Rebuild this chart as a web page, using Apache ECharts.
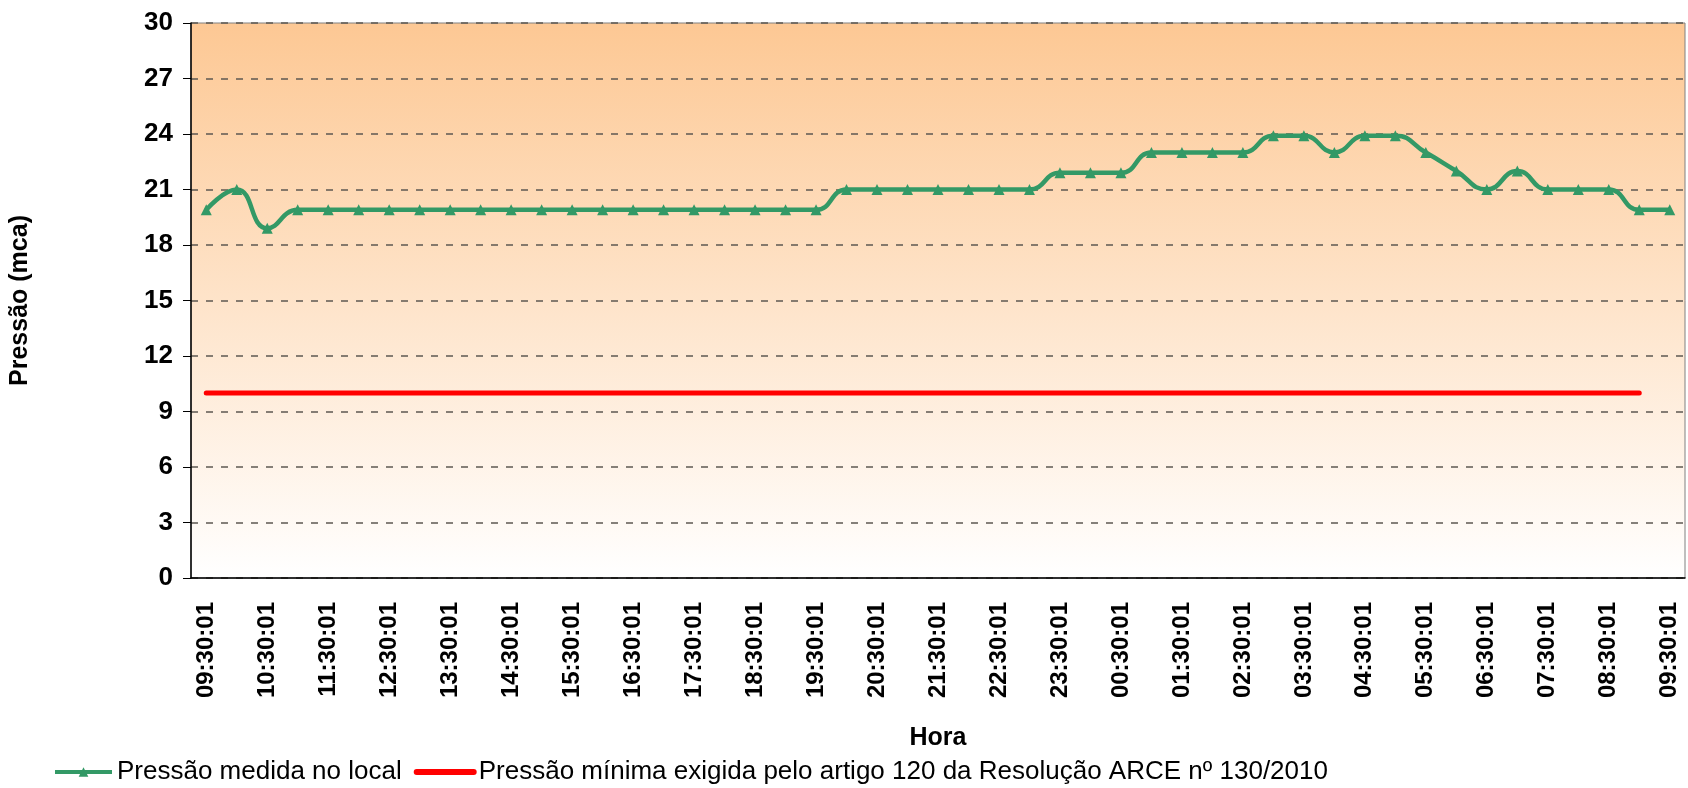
<!DOCTYPE html>
<html>
<head>
<meta charset="utf-8">
<title>Pressão</title>
<script src="https://cdn.jsdelivr.net/npm/echarts@6/dist/echarts.min.js"></script>
<style>
  html, body { margin: 0; padding: 0; background: #fff; }
  #chart { width: 1688px; height: 788px; }
</style>
</head>
<body>
<div id="chart"></div>
<script>
// horários de leitura (a cada 30 min)
var horas = [
  '09:30:01', '10:00:01', '10:30:01', '11:00:01', '11:30:01', '12:00:01', '12:30:01',
  '13:00:01', '13:30:01', '14:00:01', '14:30:01', '15:00:01', '15:30:01', '16:00:01',
  '16:30:01', '17:00:01', '17:30:01', '18:00:01', '18:30:01', '19:00:01', '19:30:01',
  '20:00:01', '20:30:01', '21:00:01', '21:30:01', '22:00:01', '22:30:01', '23:00:01',
  '23:30:01', '00:00:01', '00:30:01', '01:00:01', '01:30:01', '02:00:01', '02:30:01',
  '03:00:01', '03:30:01', '04:00:01', '04:30:01', '05:00:01', '05:30:01', '06:00:01',
  '06:30:01', '07:00:01', '07:30:01', '08:00:01', '08:30:01', '09:00:01', '09:30:01'
]

// pressão medida no local (mca)
var pressaoMedida = [
  19.9, 21, 18.9, 19.9, 19.9, 19.9, 19.9, 19.9, 19.9, 19.9,
  19.9, 19.9, 19.9, 19.9, 19.9, 19.9, 19.9, 19.9, 19.9, 19.9,
  19.9, 21, 21, 21, 21, 21, 21, 21, 21.9, 21.9,
  21.9, 23, 23, 23, 23, 23.9, 23.9, 23, 23.9, 23.9,
  23, 22, 21, 22, 21, 21, 21, 19.9, 19.9
]

// pressão mínima exigida (mca)
var pressaoMinima = [
  10, 10, 10, 10, 10, 10, 10, 10, 10, 10,
  10, 10, 10, 10, 10, 10, 10, 10, 10, 10,
  10, 10, 10, 10, 10, 10, 10, 10, 10, 10,
  10, 10, 10, 10, 10, 10, 10, 10, 10, 10,
  10, 10, 10, 10, 10, 10, 10, 10, '-'
]

var nomeMedida = 'Pressão medida no local'
var nomeMinima = 'Pressão mínima exigida pelo artigo 120 da Resolução ARCE nº 130/2010'

var fonte = '"Liberation Sans", Arial, sans-serif'

var chart = echarts.init(document.getElementById('chart'))

chart.setOption({
  animation: false,
  textStyle: { fontFamily: fonte },
  grid: {
    left: 189,
    top: 23,
    right: 3,
    bottom: 210,
    show: true,
    borderColor: '#808080',
    borderWidth: 1,
    backgroundColor: new echarts.graphic.LinearGradient(0, 0, 0, 1, [
      { offset: 0, color: '#FDC894' },
      { offset: 1, color: '#FFFFFF' }
    ])
  },
  legend: {
    left: 53,
    top: 759,
    padding: 0,
    itemWidth: 57,
    itemHeight: 12,
    itemGap: 12,
    textStyle: { fontSize: 26, color: '#000', fontFamily: fonte },
    data: [
      { name: nomeMedida, lineStyle: { width: 4 } },
      { name: nomeMinima, lineStyle: { width: 6, cap: 'round' } }
    ]
  },
  xAxis: {
    type: 'category',
    data: horas,
    boundaryGap: true,
    name: 'Hora',
    nameLocation: 'middle',
    nameGap: 148,
    nameTextStyle: { fontSize: 25, fontWeight: 'bold', color: '#000' },
    axisLine: { lineStyle: { color: '#000', width: 1.5 } },
    axisTick: { interval: 1, length: 8, lineStyle: { color: '#000' } },
    axisLabel: {
      interval: 1,
      rotate: 90,
      margin: 24,
      fontSize: 24,
      fontWeight: 'bold',
      color: '#000'
    },
    splitLine: { show: false }
  },
  yAxis: {
    type: 'value',
    min: 0,
    max: 30,
    interval: 3,
    name: 'Pressão (mca)',
    nameLocation: 'middle',
    nameGap: 158,
    nameTextStyle: { fontSize: 25, fontWeight: 'bold', color: '#000' },
    axisLine: { show: true, lineStyle: { color: '#000', width: 1.5 } },
    axisTick: { show: true, length: 8, lineStyle: { color: '#000' } },
    axisLabel: { margin: 18, fontSize: 26, fontWeight: 'bold', color: '#000' },
    splitLine: {
      lineStyle: { color: '#5e5852', width: 1.5, type: [7, 8] }
    }
  },
  series: [{
    name: nomeMedida,
    type: 'line',
    data: pressaoMedida,
    smooth: 0.5,
    symbol: 'triangle',
    symbolSize: 11,
    itemStyle: { color: '#339966' },
    lineStyle: { color: '#339966', width: 4.5 },
    z: 3
  }, {
    name: nomeMinima,
    type: 'line',
    data: pressaoMinima,
    symbol: 'line',
    showSymbol: false,
    itemStyle: { color: '#FF0000' },
    lineStyle: { color: '#FF0000', width: 5, cap: 'round' },
    z: 2
  }]
})
</script>
</body>
</html>
